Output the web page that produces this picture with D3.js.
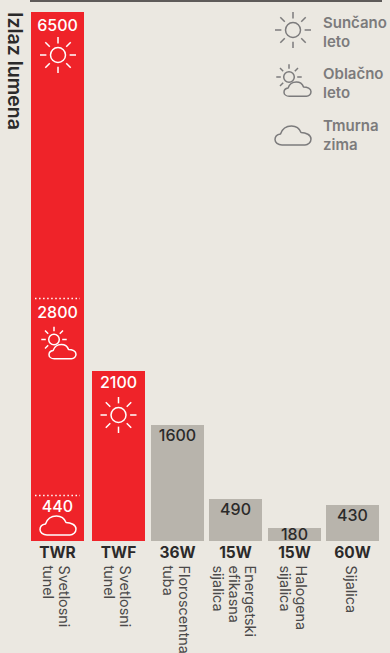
<!DOCTYPE html>
<html>
<head>
<meta charset="utf-8">
<script src="https://cdn.jsdelivr.net/npm/d3@7"></script>
<style>
html, body { margin: 0; padding: 0; background: #ebe8e1; overflow: hidden; }
text { font-family: Inter, "Noto Sans", sans-serif; }
</style>
</head>
<body>
<div id="chart"></div>
<script>
var categories = ["TWR", "TWF", "36W", "15W", "15W", "60W"];
var descriptions = [
    ["Svetlosni", "tunel"],
    ["Svetlosni", "tunel"],
    ["Floroscentna", "tuba"],
    ["Energetski", "efikasna", "sijalica"],
    ["Halogena", "sijalica"],
    ["Sijalica"]
];
var values = [6500, 2100, 1600, 490, 180, 430];
var highlighted = ["TWR", "TWF"];

// levels inside the TWR bar
var twrLevels = [6500, 2800, 440];
var twrIcons = ["sun", "partly", "cloud"];

var legendLines = [["Sunčano", "leto"], ["Oblačno", "leto"], ["Tmurna", "zima"]];
var legendIcons = ["sun", "partly", "cloud"];

var RED = "#ef2329", GREY = "#b8b4ac", DARK = "#2b2a2a", SOFT = "#7c7b7c", BG = "#ebe8e1";
var BAR_WIDTH = 53;

var svg = d3.select("#chart").append("svg")
    .attr("width", 390)
    .attr("height", 653);

svg.append("rect").attr("width", 390).attr("height", 653).attr("fill", BG);

// the printed chart is not to scale, so the y scale is piecewise
var y = d3.scaleLinear()
    .domain([0, 180, 430, 490, 1600, 2100, 6500])
    .range([541, 528, 505, 499, 425, 371, 12]);
// own scale for the dotted levels in the first bar
var yTwr = d3.scaleLinear()
    .domain([440, 2800, 6500])
    .range([495.5, 298.5, 12]);

// gaps between the bars are uneven in the original
var x = d3.scaleOrdinal()
    .domain(d3.range(categories.length))
    .range([31, 92, 151, 209, 268, 326]);

function cx(i) { return x(i) + BAR_WIDTH / 2; }

svg.append("line")
    .attr("x1", 30).attr("x2", 382)
    .attr("y1", 1).attr("y2", 1)
    .attr("stroke", "#2f2c2b")
    .attr("stroke-width", 1.5);

svg.append("text")
    .attr("transform", "translate(8,12) rotate(90)")
    .attr("font-size", 19.5)
    .attr("font-weight", 600)
    .attr("fill", DARK)
    .text("Izlaz lumena");

svg.selectAll(".bar")
    .data(values)
    .enter()
    .append("rect")
    .attr("class", "bar")
    .attr("x", function (d, i) { return x(i); })
    .attr("y", function (d) { return y(d); })
    .attr("width", BAR_WIDTH)
    .attr("height", function (d) { return y(0) - y(d); })
    .attr("fill", function (d, i) { return highlighted.indexOf(categories[i]) >= 0 ? RED : GREY; });

// value labels on the grey bars
svg.selectAll(".value")
    .data(values.slice(2))
    .enter()
    .append("text")
    .attr("class", "value")
    .attr("x", function (d, i) { return cx(i + 2); })
    .attr("y", function (d) { return d === 180 ? y(d) + 11.5 : y(d) + 16; })
    .attr("text-anchor", "middle")
    .attr("font-size", 16)
    .attr("font-weight", 500)
    .attr("fill", DARK)
    .text(function (d) { return d; });

function drawSun(g, px, py, r, color, rays) {
    g.append("circle")
        .attr("cx", px).attr("cy", py).attr("r", r)
        .attr("fill", "none").attr("stroke", color).attr("stroke-width", 1.5);
    rays.forEach(function (a) {
        var t = a * Math.PI / 180;
        var r0 = r * 1.55, r1 = r * 2.4;
        g.append("line")
            .attr("x1", px + r0 * Math.cos(t)).attr("y1", py + r0 * Math.sin(t))
            .attr("x2", px + r1 * Math.cos(t)).attr("y2", py + r1 * Math.sin(t))
            .attr("stroke", color).attr("stroke-width", 1.5);
    });
}

var cloudPath = "M7,19 C3,19 0,16.5 0,13.5 C0,10.5 2.5,8.5 5.5,8 C7,3.5 11,0 16.5,0 C21,0 24.5,2.5 26,6.5 C31,6.5 36,9 36,13 C36,16.5 33,19 30,19 Z";

function drawCloud(g, px, py, k, color) {
    g.append("path")
        .attr("d", cloudPath)
        .attr("transform", "translate(" + px + "," + py + ") scale(" + k + ")")
        .attr("fill", "none")
        .attr("stroke", color)
        .attr("stroke-width", 1.5 / k)
        .attr("stroke-linejoin", "round");
}

// px, py is the left top corner of the 36 wide icon
function drawIcon(kind, px, py, color) {
    var g = svg.append("g");
    if (kind === "sun") {
        drawSun(g, px + 18, py + 18, 7.5, color, [0, 45, 90, 135, 180, 225, 270, 315]);
    } else if (kind === "partly") {
        drawSun(g, px + 14, py + 14, 5.3, color, [0, 135, 180, 225, 270, 315]);
        drawCloud(g, px + 9, py + 19, 0.75, color);
    } else {
        drawCloud(g, px, py, 1, color);
    }
}

// levels of the TWR bar
var iconTop = { sun: 25, partly: 27, cloud: 20.5 };
var levelBase = { sun: 19, partly: 19.5, cloud: 16.5 };
twrLevels.forEach(function (d, i) {
    var ly = yTwr(d);
    if (i > 0) {
        svg.append("line")
            .attr("x1", 35).attr("x2", 80)
            .attr("y1", ly).attr("y2", ly)
            .attr("stroke", "#fff")
            .attr("stroke-width", 1.5)
            .attr("stroke-dasharray", "1.5 2.55");
    }
    svg.append("text")
        .attr("x", cx(0))
        .attr("y", ly + levelBase[twrIcons[i]])
        .attr("text-anchor", "middle")
        .attr("font-size", 16)
        .attr("font-weight", 500)
        .attr("fill", "#fff")
        .text(d);
    drawIcon(twrIcons[i], 40, ly + iconTop[twrIcons[i]], "#fff");
});

// TWF
svg.append("text")
    .attr("x", cx(1))
    .attr("y", y(2100) + 17)
    .attr("text-anchor", "middle")
    .attr("font-size", 16)
    .attr("font-weight", 500)
    .attr("fill", "#fff")
    .text(2100);
drawIcon("sun", 100.5, y(2100) + 26, "#fff");

// category labels
svg.selectAll(".cat")
    .data(categories)
    .enter()
    .append("text")
    .attr("class", "cat")
    .attr("x", function (d, i) { return cx(i); })
    .attr("y", 558)
    .attr("text-anchor", "middle")
    .attr("font-size", 15.5)
    .attr("font-weight", 700)
    .attr("fill", DARK)
    .text(function (d) { return d; });

descriptions.forEach(function (lines, i) {
    lines.forEach(function (line, j) {
        var bx = cx(i) - 6.5 + 8 * (lines.length - 1) - 16 * j;
        svg.append("text")
            .attr("transform", "translate(" + bx + ",565.5) rotate(90)")
            .attr("font-size", 14.4)
            .attr("fill", "#4b4a4a")
            .text(line);
    });
});

// legend
var legendY = [12, 63, 126];
var legendBase = [28, 79, 131];
legendLines.forEach(function (lines, i) {
    drawIcon(legendIcons[i], 275, legendY[i], SOFT);
    lines.forEach(function (line, j) {
        svg.append("text")
            .attr("x", 323)
            .attr("y", legendBase[i] + j * 19)
            .attr("font-size", 15)
            .attr("font-weight", 600)
            .attr("fill", SOFT)
            .text(line);
    });
});
</script>
</body>
</html>
